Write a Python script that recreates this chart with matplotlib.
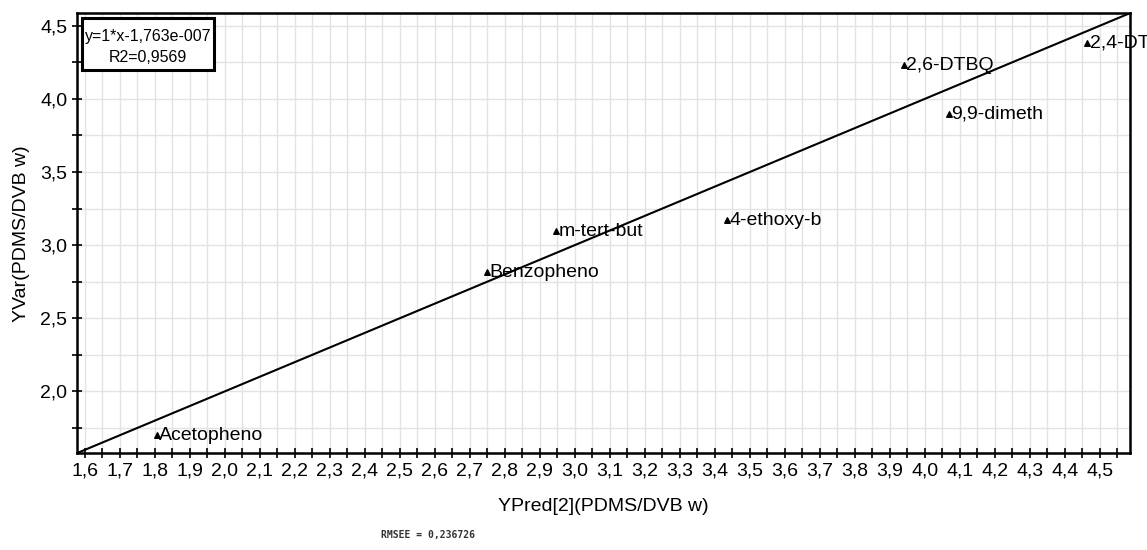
import numpy as np
import matplotlib
matplotlib.use("Agg")
import matplotlib.pyplot as plt
from matplotlib.patches import Rectangle
from matplotlib.ticker import MultipleLocator, FuncFormatter

plt.rcParams["font.family"] = ["Liberation Sans", "DejaVu Sans"]

# ── Dados ───────────────────────────────────────────────────────────────────
names = ["Acetopheno", "Benzopheno", "m-tert-but", "4-ethoxy-b",
         "2,6-DTBQ", "9,9-dimeth", "2,4-DT"]
y_pred = [1.806, 2.75, 2.947, 3.436, 3.94, 4.07, 4.465]
y_var = [1.70, 2.815, 3.096, 3.17, 4.23, 3.90, 4.38]

fit_slope = 1.0
fit_icpt = -1.763e-7
lims = (1.577, 4.586)

fig = plt.figure(figsize=(11.47, 5.5), dpi=100)
ax = fig.add_axes([0.067, 0.176, 0.918, 0.800])

# linha de regressão
xl = np.array(lims)
ax.plot(xl, fit_slope * xl + fit_icpt, color="black", lw=1.5, zorder=3)

ax.scatter(y_pred, y_var, marker="^", s=16, color="black", zorder=4)
for n, xp, yv in zip(names, y_pred, y_var):
    ax.annotate(n, (xp, yv), xytext=(1.5, 0), textcoords="offset points",
                va="center", ha="left", fontsize=14, annotation_clip=False,
                zorder=5)

ax.set_xlim(*lims)
ax.set_ylim(*lims)

ax.xaxis.set_major_locator(MultipleLocator(0.1))
ax.xaxis.set_minor_locator(MultipleLocator(0.05))
ax.yaxis.set_major_locator(MultipleLocator(0.5))
ax.yaxis.set_minor_locator(MultipleLocator(0.25))
comma = lambda v, p: f"{v:.1f}".replace(".", ",")
ax.xaxis.set_major_formatter(FuncFormatter(comma))
ax.yaxis.set_major_formatter(FuncFormatter(comma))

ax.tick_params(which="both", direction="inout", length=7, width=1.2,
               labelsize=14, color="black")
ax.grid(True, which="both", color="#e3e3e3", lw=1.0, zorder=0)
ax.set_axisbelow(True)
for s in ax.spines.values():
    s.set_linewidth(1.8)
    s.set_color("black")

ax.set_xlabel("YPred[2](PDMS/DVB w)", fontsize=14, labelpad=13)
ax.set_ylabel("YVar(PDMS/DVB w)", fontsize=14, labelpad=7)

# caixa com a equação da reta
ax.add_patch(Rectangle((0.0047, 0.8705), 0.126, 0.118, transform=ax.transAxes,
                       fc="white", ec="black", lw=2.2, zorder=6))
ax.text(0.0677, 0.948, "y=1*x-1,763e-007", transform=ax.transAxes,
        ha="center", va="center", fontsize=11.5, zorder=7)
ax.text(0.0677, 0.900, "R2=0,9569", transform=ax.transAxes,
        ha="center", va="center", fontsize=11.5, zorder=7)

fig.text(0.373, 0.027, "RMSEE = 0,236726", fontsize=7, family="DejaVu Sans Mono",
         fontweight="bold", color="#333333", ha="center", va="center")

fig.savefig("out.png", dpi=100)
